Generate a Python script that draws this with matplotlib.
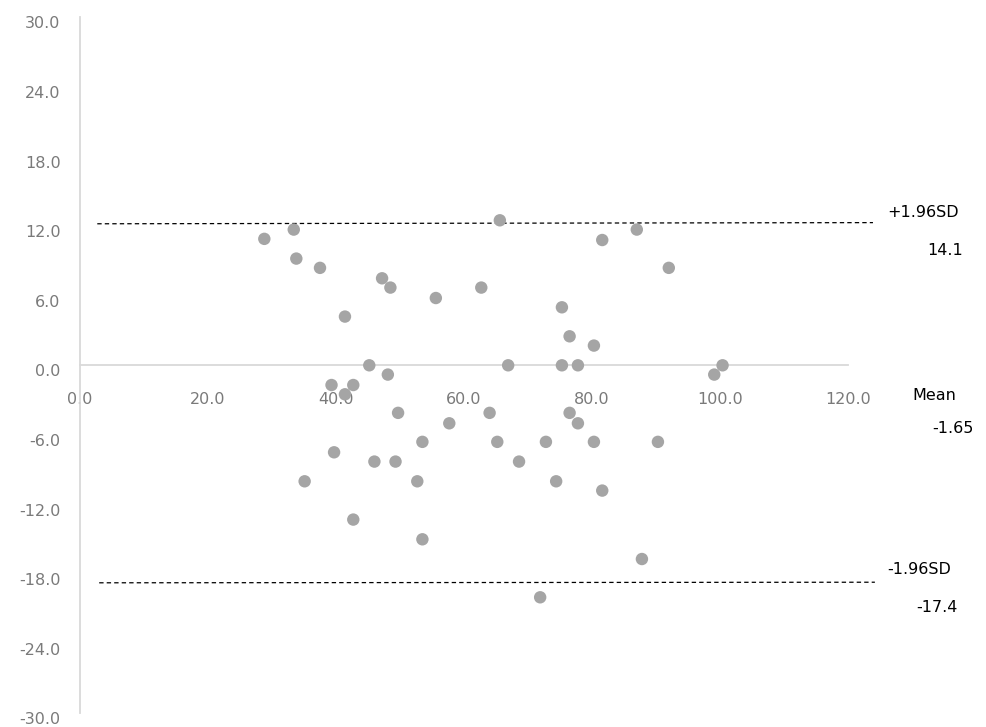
import matplotlib
matplotlib.use("Agg")
from matplotlib import pyplot
from matplotlib.transforms import ScaledTranslation

# 平均値と差 (Bland-Altman)
mean_vals = [28.8, 33.4, 33.8, 37.5, 47.2, 48.5, 41.4, 55.6, 62.7, 65.6,
             75.3, 76.5, 80.3, 81.6, 87.0, 92.0, 45.2, 66.9, 75.3, 77.8,
             100.4, 99.1, 48.1, 39.3, 42.7, 41.4, 49.7, 64.0, 76.5, 57.7,
             77.8, 53.5, 65.2, 72.8, 80.3, 90.3, 39.7, 46.0, 49.3, 68.6,
             35.1, 52.7, 74.4, 81.6, 42.7, 53.5, 87.8, 71.9]
diff_vals = [10.9, 11.7, 9.2, 8.4, 7.5, 6.7, 4.2, 5.8, 6.7, 12.5,
             5.0, 2.5, 1.7, 10.8, 11.7, 8.4, 0.0, 0.0, 0.0, 0.0,
             0.0, -0.8, -0.8, -1.7, -1.7, -2.5, -4.1, -4.1, -4.1, -5.0,
             -5.0, -6.6, -6.6, -6.6, -6.6, -6.6, -7.5, -8.3, -8.3, -8.3,
             -10.0, -10.0, -10.0, -10.8, -13.3, -15.0, -16.7, -20.0]

# 一致限界の線
upper_x = [2.7, 123.9]
upper_y = [12.2, 12.3]
lower_x = [3.0, 124.2]
lower_y = [-18.75, -18.7]

x_ticks = [0, 20, 40, 60, 80, 100, 120]
y_ticks = [-30, -24, -18, -12, -6, 0, 6, 12, 18, 24, 30]

W, H = 987, 727
fig = pyplot.figure(figsize=(W / 100, H / 100), dpi=100)
ax = fig.add_axes([80 / W, 13.7 / H, 896 / W, 696 / H])
ax.set_xlim(0, 140)
ax.set_ylim(-30, 30)

axis_color = "#d9d9d9"
label_color = "#7a7a7a"

for side in ["top", "right"]:
    ax.spines[side].set_visible(False)
ax.spines["left"].set_position(("data", 0))
ax.spines["left"].set_color(axis_color)
ax.spines["left"].set_linewidth(1.3)
ax.spines["bottom"].set_position(("data", 0))
ax.spines["bottom"].set_bounds(0, 120)
ax.spines["bottom"].set_color(axis_color)
ax.spines["bottom"].set_linewidth(1.3)

ax.set_xticks(x_ticks)
ax.set_xticklabels([f"{v:.1f}" for v in x_ticks])
ax.set_yticks(y_ticks)
ax.set_yticklabels([f"{v:.1f}" for v in y_ticks])
ax.tick_params(axis="x", length=0, pad=19, labelsize=11.5, labelcolor=label_color)
ax.tick_params(axis="y", length=0, pad=14, labelsize=11.5, labelcolor=label_color)

# y軸ラベルを少し下へ
offset = ScaledTranslation(0, -5 / 100, fig.dpi_scale_trans)
for lbl in ax.get_yticklabels():
    lbl.set_transform(lbl.get_transform() + offset)

ax.plot(upper_x, upper_y, color="black", linestyle=(0, (3.5, 2.5)), linewidth=0.9, clip_on=False)
ax.plot(lower_x, lower_y, color="black", linestyle=(0, (3.5, 2.5)), linewidth=0.9, clip_on=False)

ax.scatter(mean_vals, diff_vals, s=80, color="#a5a5a5", edgecolors="none", zorder=3)

# 注釈
ax.text(126.1, 13.2, "+1.96SD", ha="left", va="center", fontsize=11.5, color="black")
ax.text(138.0, 9.9, "14.1", ha="right", va="center", fontsize=11.5, color="black")
ax.text(130.0, -2.6, "Mean", ha="left", va="center", fontsize=11.5, color="black")
ax.text(139.6, -5.45, "-1.65", ha="right", va="center", fontsize=11.5, color="black")
ax.text(126.1, -17.6, "-1.96SD", ha="left", va="center", fontsize=11.5, color="black")
ax.text(137.2, -20.85, "-17.4", ha="right", va="center", fontsize=11.5, color="black")

fig.savefig("out.png", dpi=100)
pyplot.close(fig)
